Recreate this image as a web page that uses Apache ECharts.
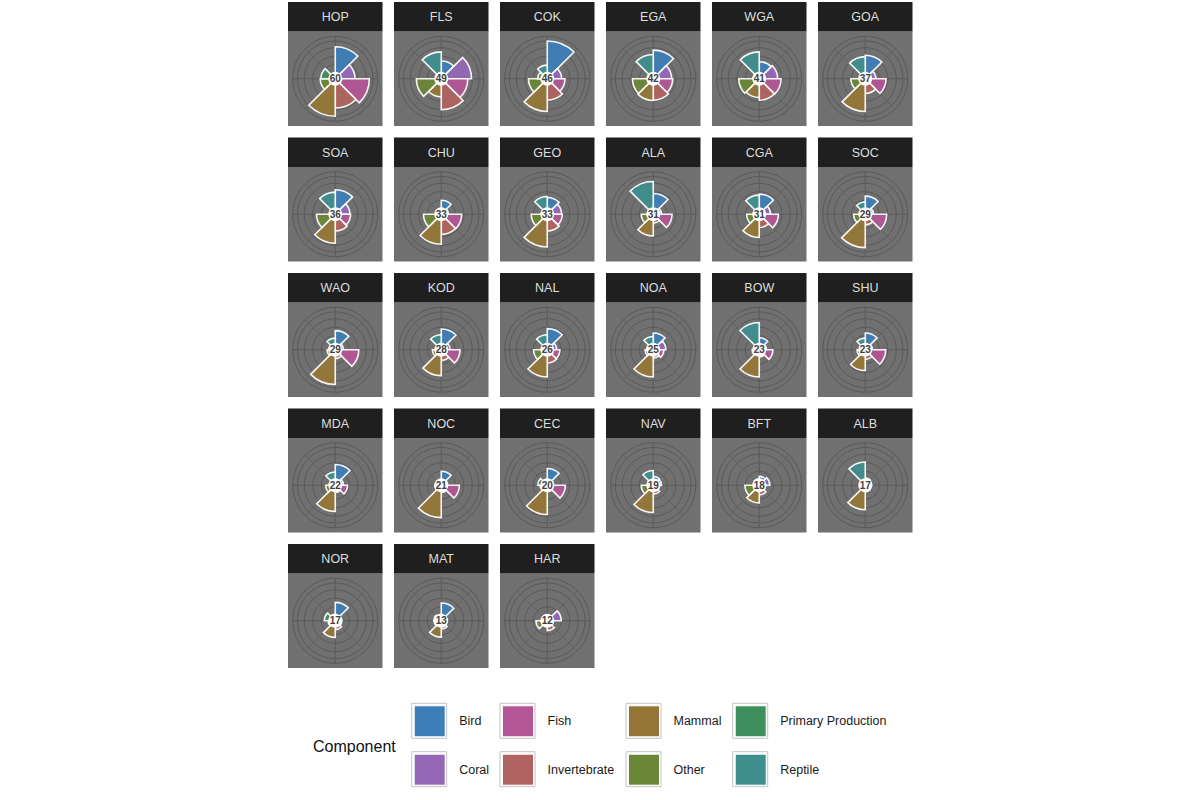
<!DOCTYPE html>
<html>
<head>
<meta charset="utf-8">
<script src="https://cdn.jsdelivr.net/npm/echarts@6/dist/echarts.min.js"></script>
<style>html,body{margin:0;padding:0;background:#fff}#chart{width:1200px;height:800px}</style>
</head>
<body>
<div id="chart"></div>
<script>
// ---------- data ----------
const regions = ['HOP','FLS','COK','EGA','WGA','GOA','SOA','CHU','GEO','ALA','CGA','SOC','WAO','KOD','NAL','NOA','BOW','SHU','MDA','NOC','CEC','NAV','BFT','ALB','NOR','MAT','HAR'];
const scores  = [60,49,46,42,41,37,36,33,33,31,31,29,29,28,26,25,23,23,22,21,20,19,18,17,17,13,12];
const components = ['Bird','Coral','Fish','Invertebrate','Mammal','Other','Primary Production','Reptile'];

const bird              = [78,36,95,68,34,53,56,25,33,45,43,37,40,45,46,33,19,33,45,25,33,10,10, 5,38,36, 0];
const coral             = [42,73,26,38,38,15,27, 5,26, 8,17, 8, 8,10,12,21, 5, 5, 8, 3, 3, 8,15, 3, 3, 0,25];
const fish              = [84,62,36,41,48,45,29,44,28,39,40,47,53,39,21,15,24,44,20,37,37, 3, 3, 0, 3, 0, 0];
const invertebrate      = [70,75,47,47,47,27,33,43,33,10,23,15,10,15,23, 8, 5,12, 5, 5, 3,10,12, 3,10, 8,13];
const mammal            = [94,37,80,48,39,80,69,72,80,48,52,82,86,60,64,64,64,45,61,79,70,64,36,56,33,32, 0];
const other             = [28,57,39,45,44,26,39,36,31,19,21,18, 8,10,24, 8, 5, 8,12, 3, 5,19,26, 0, 5, 5,17];
const primaryProduction = [26, 0,12, 0, 2, 2, 0, 0, 0, 0, 0, 0, 3, 0, 0, 3, 0, 0, 0, 0,12, 0, 0, 0,16, 6, 0];
const reptile           = [ 0,63,24,55,63,49,49, 0,36,80,40,20,18,28,28,23,64,18,23, 0, 0,27, 3,52, 3, 3, 0];

const componentValues = [bird, coral, fish, invertebrate, mammal, other, primaryProduction, reptile];
const colors = ['#3d7eb8','#9467b7','#b45596','#b06360','#967636','#6a8636','#3f8f5e','#3e8f8e'];

// ---------- layout / style ----------
const FONT = '"Liberation Sans", Arial, Helvetica, sans-serif';
const NCOL = 6, X0 = 288, DX = 106, PANEL = 94.5, STRIP = 29.5, PTOP0 = 31.5, DY = 135.5;
const R_OUT = 0.45 * PANEL, R_MAX = 0.4 * PANEL, R_HOLE = 5.5, V_MAX = 95;
const PANEL_BG = '#707070', GRID = '#5a5a5a', STRIP_BG = '#1f1f1f', STRIP_TXT = '#dedede';

const polar = [], angleAxis = [], radiusAxis = [], series = [], elements = [], legend = [];

regions.forEach((reg, i) => {
  const col = i % NCOL, row = Math.floor(i / NCOL);
  const left = X0 + col * DX, top = PTOP0 + row * DY;
  const cx = left + PANEL / 2, cy = top + PANEL / 2;

  elements.push({type: 'rect', silent: true, z: -10, shape: {x: left, y: top, width: PANEL, height: PANEL}, style: {fill: PANEL_BG}});
  elements.push({type: 'rect', silent: true, z: -10, shape: {x: left, y: top - STRIP, width: PANEL, height: STRIP}, style: {fill: STRIP_BG}});
  elements.push({type: 'text', silent: true, z: -9, x: cx, y: top - STRIP / 2 + 0.5,
    style: {text: reg, fill: STRIP_TXT, fontSize: 12.5, fontFamily: FONT, align: 'center', verticalAlign: 'middle'}});

  // background polar: radial lines + outer circle
  const bg = polar.length;
  polar.push({center: [cx, cy], radius: [0, R_OUT]});
  angleAxis.push({polarIndex: bg, type: 'value', min: 0, max: 360, interval: 90, startAngle: 90, clockwise: true,
    axisLine: {show: true, lineStyle: {color: GRID, width: 1}},
    axisTick: {show: false}, axisLabel: {show: false},
    splitLine: {show: true, lineStyle: {color: GRID, width: 1}},
    minorTick: {show: false, splitNumber: 2},
    minorSplitLine: {show: true, lineStyle: {color: GRID, width: 0.6}}});
  radiusAxis.push({polarIndex: bg, type: 'value', min: 0, max: 1, show: false});

  // data polar
  const dp = polar.length;
  polar.push({center: [cx, cy], radius: [R_HOLE, R_MAX]});
  angleAxis.push({polarIndex: dp, type: 'category', data: components, startAngle: 90, clockwise: true, boundaryGap: true,
    axisLine: {show: false}, axisTick: {show: false}, axisLabel: {show: false}, splitLine: {show: false}});
  radiusAxis.push({polarIndex: dp, type: 'value', min: 0, max: V_MAX, interval: 25,
    axisLine: {show: false}, axisTick: {show: false}, axisLabel: {show: false},
    splitLine: {show: true, lineStyle: {color: GRID, width: 1}}});

  components.forEach((name, k) => {
    series.push({
      type: 'bar', name, coordinateSystem: 'polar', polarIndex: dp, stack: 'p' + i,
      barCategoryGap: '0%', silent: true, animation: false,
      data: components.map((_, j) => j === k ? componentValues[k][i] : '-'),
      itemStyle: {color: colors[k], borderColor: '#ffffff', borderWidth: 1.6, opacity: 0.93}
    });
  });

  series.push({
    type: 'pie', center: [cx, cy], radius: [0, 7], silent: true, animation: false,
    data: [{value: scores[i], name: reg}],
    itemStyle: {color: '#ffffff'},
    label: {show: true, position: 'center', formatter: '{c}', fontSize: 10, fontWeight: 'bold', color: '#404040', fontFamily: FONT},
    labelLine: {show: false}
  });
});

// legend (ggplot-like keys, filled column-wise in 2 rows)
const legendCols = [411.7, 500, 626, 732.7];
const legendRows = [703.3, 751.7];
components.forEach((name, k) => {
  const c = Math.floor(k / 2), r = k % 2;
  const x = legendCols[c], y = legendRows[r];
  elements.push({type: 'rect', silent: true, z: -5, shape: {x: x, y: y, width: 35, height: 35},
    style: {fill: '#ffffff', stroke: '#c4c4c4', lineWidth: 1}});
  legend.push({
    data: [name], left: x + 2, top: y + 2, padding: 0, itemWidth: 31, itemHeight: 31, icon: 'rect',
    selectedMode: false,
    itemStyle: {borderColor: '#ffffff', borderWidth: 1, opacity: 1},
    textStyle: {fontSize: 12.5, color: '#1a1a1a', fontFamily: FONT, padding: [2, 0, 0, 9]}
  });
});

const chart = echarts.init(document.getElementById('chart'), null, {renderer: 'svg'});
chart.setOption({
  animation: false,
  backgroundColor: '#ffffff',
  title: {text: 'Component', left: 313, top: 738, padding: 0,
    textStyle: {fontSize: 16, fontWeight: 'normal', color: '#111', fontFamily: FONT}},
  polar, angleAxis, radiusAxis, series, legend,
  graphic: {elements}
});
</script>
</body>
</html>
